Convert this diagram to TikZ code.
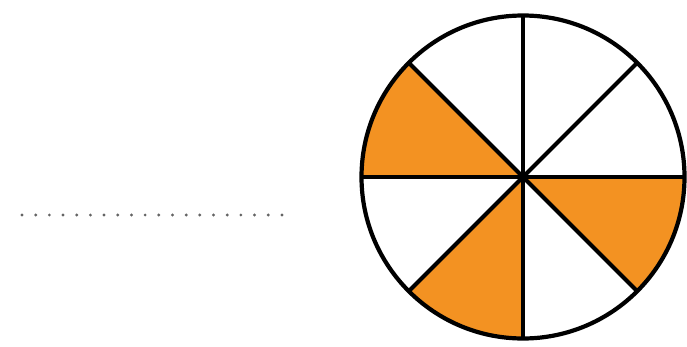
\documentclass[tikz,border=0pt]{standalone}
\definecolor{pieorange}{RGB}{243,146,34}
\definecolor{dotgray}{RGB}{100,100,100}
\begin{document}
\begin{tikzpicture}[x=1pt,y=1pt,
  sector/.style={fill=pieorange,draw=none},
  spoke/.style={line width=4.2pt,black},
  rim/.style={line width=4.2pt,black},
  dotmark/.style={fill=dotgray,draw=none}]
\useasboundingbox (0,0) rectangle (687,346);
\coordinate (c) at (523,169);
\def\R{161.5}
\foreach \a in {135,225,315}{
  \fill[sector] (c) -- ++(\a:\R) arc[start angle=\a,end angle=\a+45,radius=\R] -- cycle;
}
\foreach \a in {0,45,...,315}{
  \draw[spoke] (c) -- ++(\a:\R);
}
\draw[rim] (c) circle[radius=\R];
\foreach \i in {0,...,19}{
  \fill[dotmark] ({22+\i*13.68},131) circle[radius=1.6];
}
\end{tikzpicture}
\end{document}
